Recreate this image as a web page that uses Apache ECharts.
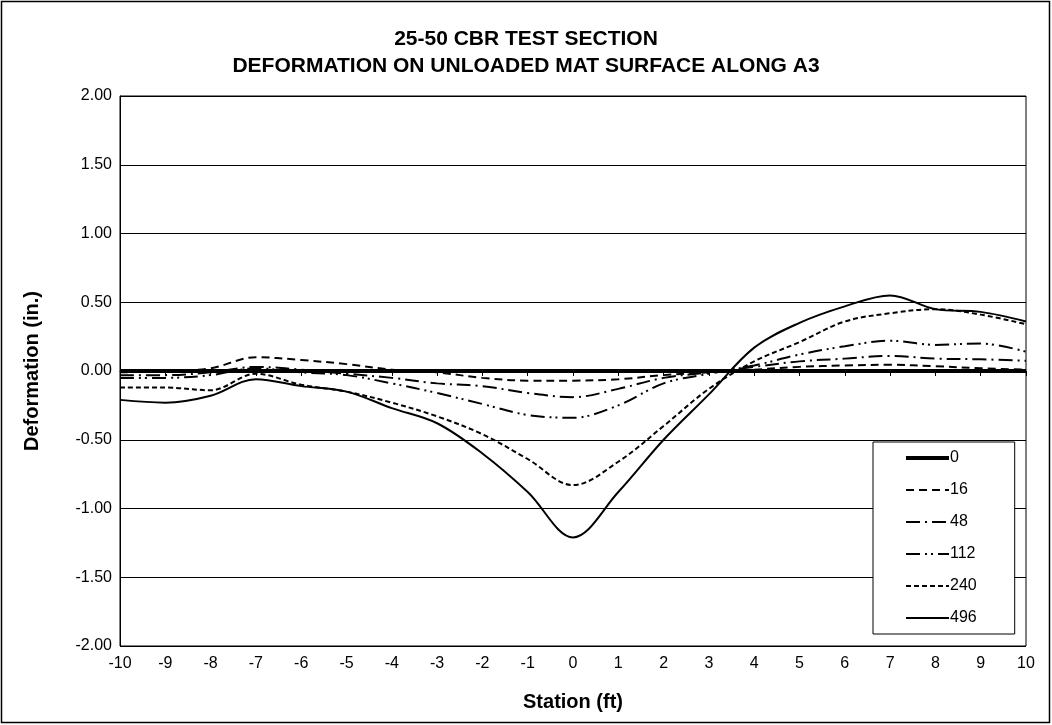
<!DOCTYPE html>
<html>
<head>
<meta charset="utf-8">
<script src="https://cdn.jsdelivr.net/npm/echarts@6/dist/echarts.min.js"></script>
<style>
  html, body { margin: 0; padding: 0; background: #fff; }
  #chart { width: 1052px; height: 725px; }
</style>
</head>
<body>
<div id="chart"></div>
<script>
// Station along A3 (ft)
const stations = [-10, -9, -8, -7, -6, -5, -4, -3, -2, -1, 0, 1, 2, 3, 4, 5, 6, 7, 8, 9, 10];

// Deformation (in.) after each pass count
const passes0   = [0, 0, 0, 0, 0, 0, 0, 0, 0, 0, 0, 0, 0, 0, 0, 0, 0, 0, 0, 0, 0];
const passes16  = [-0.01, 0.00, 0.02, 0.10, 0.08, 0.05, 0.01, -0.01, -0.05, -0.07, -0.07, -0.06, -0.03, -0.01, 0.01, 0.03, 0.04, 0.045, 0.035, 0.02, 0.01];
const passes48  = [-0.03, -0.03, -0.01, 0.03, 0.01, -0.02, -0.05, -0.09, -0.11, -0.16, -0.19, -0.13, -0.05, -0.01, 0.03, 0.07, 0.09, 0.11, 0.09, 0.085, 0.075];
const passes112 = [-0.05, -0.05, -0.03, 0.02, -0.01, -0.03, -0.09, -0.16, -0.24, -0.32, -0.34, -0.25, -0.09, -0.02, 0.04, 0.12, 0.18, 0.22, 0.19, 0.20, 0.14];
const passes240 = [-0.12, -0.12, -0.14, -0.02, -0.10, -0.15, -0.23, -0.33, -0.46, -0.64, -0.83, -0.66, -0.40, -0.13, 0.07, 0.21, 0.36, 0.42, 0.45, 0.41, 0.34];
const passes496 = [-0.21, -0.23, -0.18, -0.06, -0.11, -0.15, -0.27, -0.38, -0.60, -0.88, -1.21, -0.88, -0.50, -0.17, 0.17, 0.35, 0.47, 0.55, 0.45, 0.43, 0.36];

const seriesNames = ['0', '16', '48', '112', '240', '496'];
const seriesValues = [passes0, passes16, passes48, passes112, passes240, passes496];

const titleLines = ['25-50 CBR TEST SECTION', 'DEFORMATION ON UNLOADED MAT SURFACE ALONG A3'];

const yTicks = { min: -2, max: 2, step: 0.5 };
const xTicks = { min: -10, max: 10, step: 1 };

const FONT = '"Liberation Sans", Arial, sans-serif';

const lineStyles = [
  { width: 4, type: 'solid' },
  { width: 2, type: [8, 5] },
  { width: 2, type: [14, 5, 2, 5] },
  { width: 2, type: [14, 5, 2, 4, 2, 5] },
  { width: 2, type: [5, 3] },
  { width: 2, type: 'solid' }
];

const series = seriesNames.map((name, i) => ({
  name: name,
  type: 'line',
  xAxisIndex: 0,
  yAxisIndex: 0,
  data: stations.map((s, k) => [s, seriesValues[i][k]]),
  symbol: 'none',
  smooth: i === 0 ? false : 0.35,
  lineStyle: Object.assign({ color: '#000' }, lineStyles[i]),
  itemStyle: { color: '#000' },
  z: i === 0 ? 3 : 4
}));

const titleStyle = { fontFamily: FONT, fontWeight: 'bold', fontSize: 21, color: '#000' };

const chart = echarts.init(document.getElementById('chart'), null, { renderer: 'canvas' });

chart.setOption({
  animation: false,
  backgroundColor: '#fff',
  textStyle: { fontFamily: FONT, color: '#000' },
  title: [
    { text: titleLines[0], left: 'center', top: 29, padding: 0, textStyle: titleStyle },
    { text: titleLines[1], left: 'center', top: 56, padding: 0, textStyle: titleStyle }
  ],
  graphic: [{
    type: 'rect',
    shape: { x: 1.5, y: 1.5, width: 1048, height: 721 },
    style: { fill: 'none', stroke: '#000', lineWidth: 1.5 },
    silent: true,
    z: 100
  }],
  grid: {
    left: 120, right: 26, top: 96, bottom: 79,
    show: true,
    borderColor: '#000',
    borderWidth: 1
  },
  legend: {
    orient: 'vertical',
    left: 873,
    top: 442,
    data: seriesNames.map((name, i) => ({
      name: name,
      lineStyle: { width: lineStyles[i].width, type: lineStyles[i].type, color: '#000' }
    })),
    itemWidth: 43,
    itemHeight: 14,
    itemGap: 16,
    padding: [8, 38, 8, 31],
    backgroundColor: '#fff',
    borderColor: '#000',
    borderWidth: 1,
    itemStyle: { opacity: 0, borderWidth: 0 },
    textStyle: { fontFamily: FONT, fontSize: 16, color: '#000', padding: [0, 0, 0, -4] }
  },
  xAxis: [{
    type: 'value',
    min: xTicks.min,
    max: xTicks.max,
    interval: xTicks.step,
    position: 'bottom',
    name: 'Station (ft)',
    nameLocation: 'middle',
    nameGap: 46,
    nameTextStyle: { fontFamily: FONT, fontWeight: 'bold', fontSize: 20, color: '#000' },
    axisLine: { show: false, onZero: false },
    axisTick: { show: false },
    splitLine: { show: false },
    axisLabel: { fontFamily: FONT, fontSize: 16, color: '#000', margin: 10 }
  }, {
    type: 'value',
    min: xTicks.min,
    max: xTicks.max,
    interval: xTicks.step,
    position: 'bottom',
    axisLine: { show: true, onZero: true, lineStyle: { color: '#000', width: 1 } },
    axisTick: { show: true, inside: false, length: 5, lineStyle: { color: '#000', width: 1 } },
    axisLabel: { show: false },
    splitLine: { show: false }
  }],
  yAxis: {
    type: 'value',
    min: yTicks.min,
    max: yTicks.max,
    interval: yTicks.step,
    name: 'Deformation (in.)',
    nameLocation: 'middle',
    nameGap: 78,
    nameTextStyle: { fontFamily: FONT, fontWeight: 'bold', fontSize: 20, color: '#000' },
    axisLine: { show: true, onZero: false, lineStyle: { color: '#000', width: 1 } },
    axisTick: { show: false },
    splitLine: { show: true, lineStyle: { color: '#000', width: 1 } },
    axisLabel: {
      fontFamily: FONT, fontSize: 16, color: '#000', margin: 8,
      formatter: v => v.toFixed(2)
    }
  },
  series: series
});
</script>
</body>
</html>
